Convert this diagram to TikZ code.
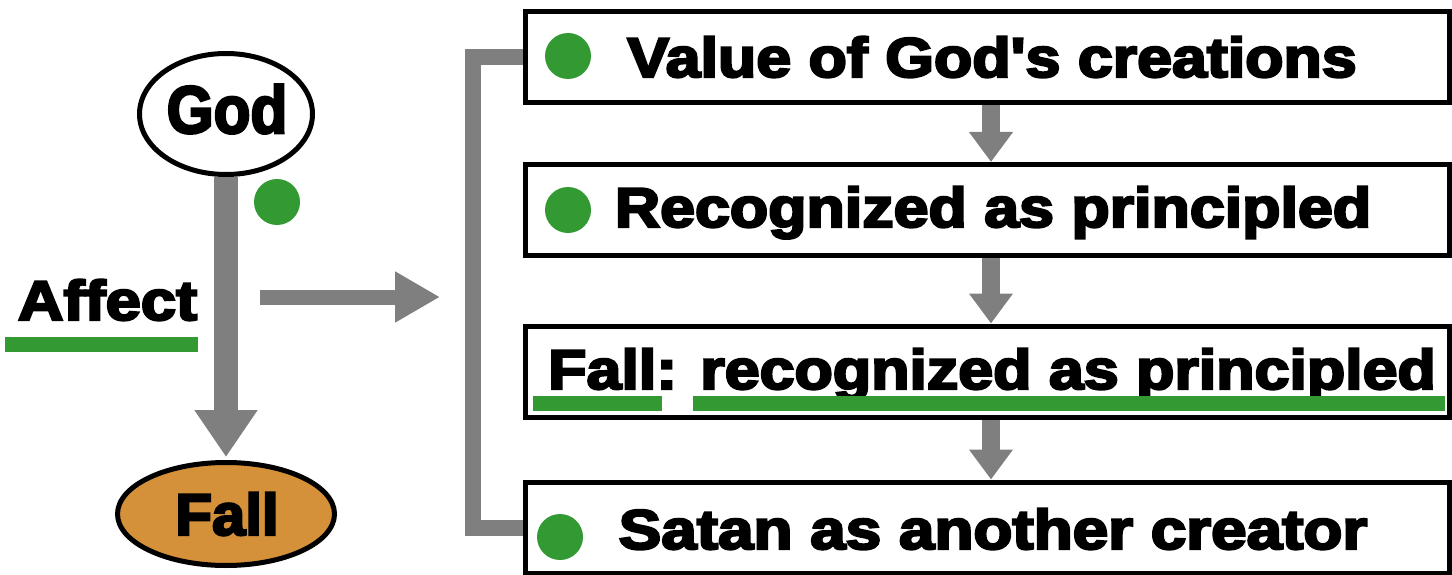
\documentclass[tikz,border=0pt]{standalone}
\usepackage{fontspec}
\newfontfamily\hv{Liberation Sans}[BoldFeatures={FakeBold=4}]
\usetikzlibrary{shapes.geometric,arrows.meta}
\definecolor{agray}{RGB}{127,127,127}
\definecolor{dgreen}{RGB}{51,153,51}
\definecolor{fallfill}{RGB}{212,145,58}
\newcommand\sx[2]{\scalebox{#1}[1]{#2}}
\tikzset{
  lbl/.style={font=\hv\bfseries\fontsize{56}{60}\selectfont, inner sep=0pt, text height=40pt, text depth=0pt},
  boxnode/.style={draw=black, line width=5pt, rectangle, minimum width=924pt, minimum height=91pt, inner sep=0pt},
  dot/.style={circle, fill=dgreen, minimum size=46pt, inner sep=0pt},
  gbar/.style={fill=dgreen},
  vgarrow/.style={draw=agray, line width=18pt, -{Triangle[width=42pt,length=30pt]}},
  bracketline/.style={draw=agray, line width=16pt, line join=miter},
}
\begin{document}
\begin{tikzpicture}[x=1pt,y=-1pt]
\useasboundingbox (0,0) rectangle (1452,575);
% left part
\node[ellipse, draw=black, line width=5pt, fill=white, minimum width=173pt, minimum height=121pt, inner sep=0pt] (god) at (226,114) {};
\node[font=\hv\bfseries\fontsize{67}{70}\selectfont, inner sep=0pt, text height=48pt, text depth=0pt] (godt) at (227,109) {\sx{0.9}{God}};
\node[ellipse, draw=black, line width=5pt, fill=fallfill, minimum width=217pt, minimum height=103pt, inner sep=0pt] (fall) at (226,514) {};
\node[font=\hv\bfseries\fontsize{58.7}{62}\selectfont, inner sep=0pt, text height=42pt, text depth=0pt] (fallt) at (227,514) {\sx{1.02}{Fall}};
\draw[draw=agray, line width=24pt, -{Triangle[width=60pt,length=47pt]}, shorten >=3pt] (god.south) -- (fall.north);
\node[dot] (d0) at (277,202) {};
\node[lbl] (affect) at (107.5,300) {\sx{1.13}{Affect}};
\fill[gbar] (5,337) rectangle (198,352);
\coordinate (hs) at (260,297);
\coordinate (he) at (440,297);
\draw[draw=agray, line width=15pt, -{Triangle[width=48pt,length=45pt]}] (hs) -- (he);
% boxes
\node[boxnode] (b1) at (987,57.5) {};
\node[boxnode] (b2) at (987,210) {};
\node[boxnode] (b3) at (987,371.5) {};
\node[boxnode] (b4) at (987,527.5) {};
\coordinate (ax) at (991,0);
\draw[vgarrow] (b1.south -| ax) -- (b2.north -| ax);
\draw[vgarrow] (b2.south -| ax) -- (b3.north -| ax);
\draw[vgarrow] (b3.south -| ax) -- (b4.north -| ax);
\draw[bracketline] (b1.west) -- ++(-49.5,0) |- (b4.west);
% texts
\node[lbl] (t1) at (992,57) {\sx{1.12}{Value of God\textquotesingle s creations}};
\node[lbl] (t2) at (993,207) {\sx{1.12}{Recognized as principled}};
\node[lbl] (t3) at (992,369) {\sx{1.12}{Fall: recognized as principled}};
\node[lbl] (t4) at (993,529) {\sx{1.14}{Satan as another creator}};
\fill[gbar] (533,396) rectangle (662,411);
\fill[gbar] (693,396) rectangle (1445,411);
\node[dot] (d1) at (568,56) {};
\node[dot] (d2) at (568,210) {};
\node[dot] (d4) at (560,537) {};
\end{tikzpicture}
\end{document}
